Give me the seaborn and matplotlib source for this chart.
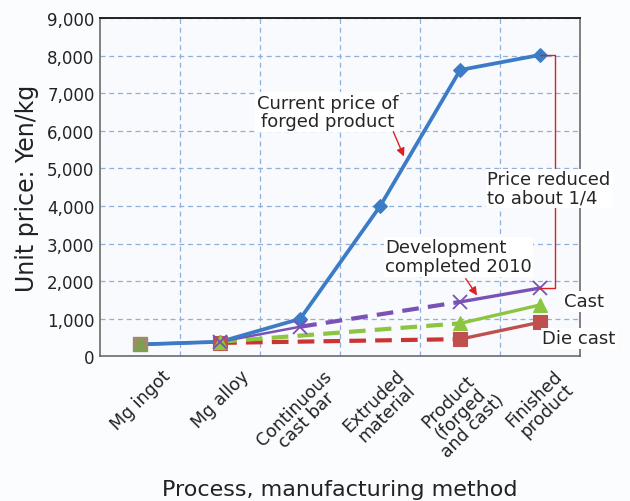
import matplotlib
matplotlib.use("Agg")
import matplotlib.pyplot as plt
import seaborn as sns
import numpy as np

# Data
categories = ["Mg ingot", "Mg alloy", "Continuous\ncast bar", "Extruded\nmaterial",
              "Product\n(forged\nand cast)", "Finished\nproduct"]
forged = [320, 390, 1000, 4000, 7620, 8020]
development = [320, 390, 790, np.nan, 1450, 1820]
cast = [320, 390, np.nan, np.nan, 880, 1370]
die_cast = [320, 360, np.nan, np.nan, 460, 910]
yticks = [0, 1000, 2000, 3000, 4000, 5000, 6000, 7000, 8000, 9000]

sns.set_theme(style="whitegrid")
plt.rcParams['font.family'] = ['DejaVu Sans']

fig, ax = plt.subplots(figsize=(6.3, 5.02), dpi=100)
fig.patch.set_facecolor("#fbfcfe")
ax.set_facecolor("#f8fafd")
fig.subplots_adjust(left=0.159, right=0.921, top=0.962, bottom=0.288)

blue = "#3c7bc6"
purple = "#7a52b6"
green = "#8cc53f"
red = "#cc3333"
red_mk = "#c0504d"


def seg(vals, i, j, color, dashed=False, lw=2.2):
    sns.lineplot(x=[i, j], y=[vals[i], vals[j]], ax=ax, color=color, lw=lw,
                 linestyle=(0, (4, 2.2)) if dashed else "-", legend=False)


# dashed projections
seg(die_cast, 1, 4, red, dashed=True, lw=3)
seg(cast, 1, 4, green, dashed=True, lw=3)
seg(development, 2, 4, purple, dashed=True, lw=3)

# solid parts
seg(development, 1, 2, purple, lw=1.8)
seg(die_cast, 4, 5, red_mk, lw=2.4)
seg(cast, 4, 5, green, lw=2.4)
seg(development, 4, 5, purple, lw=2.4)
seg(development, 0, 1, purple)

idx = list(range(len(categories)))
sns.lineplot(x=idx, y=forged, ax=ax, color=blue, lw=2.7, marker="D", markersize=7,
             markeredgecolor=blue)

# markers
for vals, mk, col, ms in [(die_cast, "s", red_mk, 10), (cast, "^", green, 10),
                          (development, "x", purple, 10)]:
    xs = [i for i in idx if not np.isnan(vals[i])]
    ys = [vals[i] for i in xs]
    ax.plot(xs[1:], ys[1:], linestyle="none", marker=mk, color=col, markersize=ms,
            markeredgewidth=1.3 if mk == "x" else 0.8)
ax.plot([0], [die_cast[0]], linestyle="none", marker="s", color="#a08a6a", markersize=10)
ax.plot([0], [cast[0]], linestyle="none", marker="^", color="#7aa050", markersize=8)

ax.set_xlim(-0.5, 5.5)
ax.set_ylim(0, 9000)
ax.set_yticks(yticks)
ax.set_yticklabels([f"{v:,}" for v in yticks], fontsize=12, color="#222222")
ax.set_xticks(idx)
ax.set_xticklabels(categories, rotation=45, ha="center", va="top", fontsize=12.5,
                   linespacing=0.95, color="#222222")
ax.tick_params(axis="both", length=0, pad=4)
ax.tick_params(axis="x", pad=7)

# grid between categories
ax.set_xticks([i + 0.5 for i in idx[:-1]], minor=True)
ax.grid(False)
ax.grid(True, which="minor", axis="x", linestyle=(0, (4, 3)), color="#8fb0da", lw=0.9)
ax.grid(True, which="major", axis="y", linestyle=(0, (4, 3)), color="#8fb0da", lw=0.9)
ax.set_axisbelow(True)

for side in ["left", "bottom", "right"]:
    ax.spines[side].set_color("#6a6a6a")
    ax.spines[side].set_linewidth(1.2)
ax.spines["top"].set_color("#222222")
ax.spines["top"].set_linewidth(1.4)

ax.set_xlabel("Process, manufacturing method", fontsize=16, color="#222222", labelpad=13)
ax.set_ylabel("Unit price: Yen/kg", fontsize=17, color="#222222", labelpad=6)

# annotations
box = dict(facecolor="white", edgecolor="none", pad=1)
ax.text(2.34, 6500, "Current price of\nforged product", fontsize=13, ha="center", va="center",
        linespacing=1.05, bbox=box)
ax.annotate("", xy=(3.31, 5250), xytext=(3.15, 6050),
            arrowprops=dict(arrowstyle="-|>", color="#e02020", lw=1.0))

ax.text(3.06, 2650, "Development\ncompleted 2010", fontsize=13, ha="left", va="center",
        linespacing=1.05, bbox=box)
ax.annotate("", xy=(4.23, 1560), xytext=(4.05, 2130),
            arrowprops=dict(arrowstyle="-|>", color="#e02020", lw=1.0))

# bracket from forged to development at finished product
bx = 5.19
ax.plot([5, bx, bx, 5], [forged[5], forged[5], development[5], development[5]],
        color="#e02020", lw=1.0)
ax.text(4.34, 4470, "Price reduced\nto about 1/4", fontsize=13, ha="left", va="center",
        linespacing=1.05, bbox=box, zorder=5)

ax.text(5.3, 1470, "Cast", fontsize=13, ha="left", va="center", bbox=box)
ax.text(5.94, 480, "Die cast", fontsize=13, ha="right", va="center", bbox=box)

fig.savefig("out.png", dpi=100, facecolor=fig.get_facecolor())
